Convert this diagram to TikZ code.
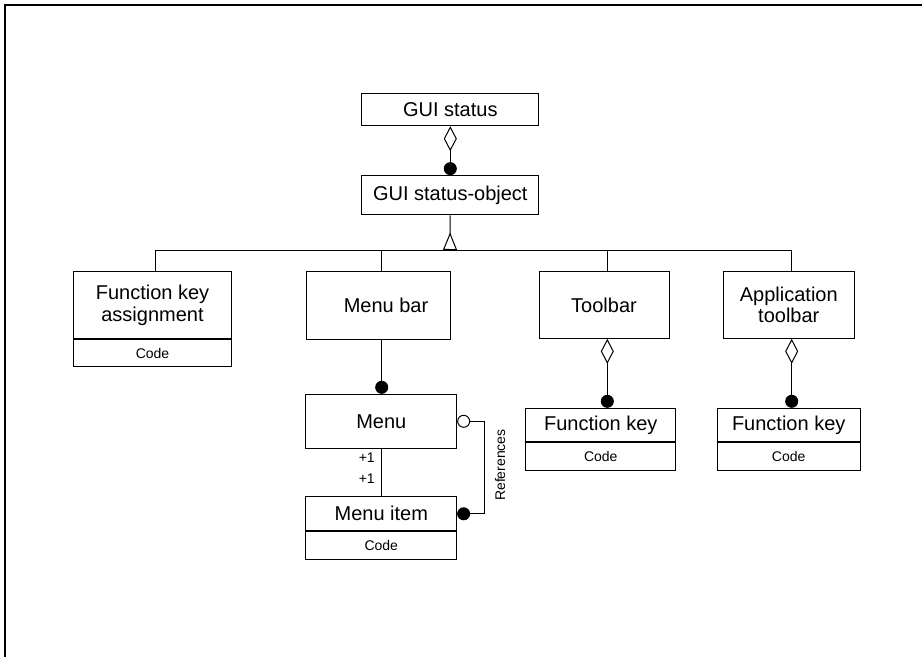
\documentclass[tikz,border=0pt]{standalone}
\usepackage{fontspec}
\setmainfont{Liberation Sans}
\usetikzlibrary{arrows.meta,calc}
\begin{document}
\begin{tikzpicture}[x=0.75pt,y=-0.75pt,
  sz/.style 2 args={minimum width=#1*0.75pt, minimum height=#2*0.75pt},
  box/.style={draw, line width=0.75pt, inner sep=0pt, align=center, font=\fontsize{15}{16}\selectfont},
  codebox/.style={draw, line width=0.75pt, inner sep=0pt, font=\fontsize{10.5}{12}\selectfont},
  small/.style={inner sep=0pt, font=\fontsize{10.5}{12}\selectfont},
  conn/.style={line width=0.75pt},
  agg/.style={conn, {Diamond[open,length=18.75pt,width=9.75pt]}-{Circle[length=9.75pt]}},
  comp/.style={conn, -{Circle[length=9.75pt]}},
  gen/.style={conn, -{Triangle[open,reversed,length=13.2pt,width=10.5pt]}}
]
\useasboundingbox (0,0) rectangle (922,657);
% frame
\draw[line width=1.8pt] (5,657) -- (5,5) -- (922,5);

% nodes
\node[box, sz={177.3}{32.4}] (gs) at (450.3,109.5) {GUI status};
\node[box, sz={177.3}{39.3}] (gso) at (450.3,195.3) {GUI status-object};

\node[box, sz={158.4}{67.3}] (fka) at (152.5,305.3) {Function key\\assignment};
\node[codebox, sz={158.4}{26.7}, anchor=north] (fkacode) at (fka.south) {Code};

\node[box, sz={144}{68}] (mb) at (378,305) {\hspace*{12pt}Menu bar};

\node[box, sz={150.7}{54}] (menu) at (381.3,421.3) {Menu};
\node[box, sz={150.7}{34.3}] (mi) at (381.3,513.8) {Menu item};
\node[codebox, sz={150.7}{27.3}, anchor=north] (micode) at (mi.south) {Code};

\node[box, sz={130}{66.6}] (tb) at (604,305) {Toolbar};
\node[box, sz={149.7}{33.4}] (fk1) at (600.8,425) {Function key};
\node[codebox, sz={149.7}{27.3}, anchor=north] (fk1code) at (fk1.south) {Code};

\node[box, sz={131}{66.6}] (atb) at (788.8,305) {Application\\toolbar};
\node[box, sz={142.7}{33.4}] (fk2) at (788.7,425) {Function key};
\node[codebox, sz={142.7}{27.3}, anchor=north] (fk2code) at (fk2.south) {Code};

% bus coordinates
\coordinate (tri) at (450,250);
\coordinate (b1) at (155.7,250);
\coordinate (b2) at (381.7,250);
\coordinate (b3) at (607.3,250);
\coordinate (b4) at (791.7,250);

% connectors
\draw[agg] (gs) -- (gso);
\draw[gen] (gso) -- (tri);
\draw[conn] (b1) -- (b4);
\draw[conn] (b1) -- (b1 |- fka.north);
\draw[conn] (b2) -- (b2 |- mb.north);
\draw[conn] (b3) -- (b3 |- tb.north);
\draw[conn] (b4) -- (b4 |- atb.north);

\draw[comp] (b2 |- mb.south) -- (b2 |- menu.north);
\draw[conn] (b2 |- menu.south) -- (b2 |- mi.north);
\node[small, anchor=east] (m1) at (375,457.7) {+1};
\node[small, anchor=east] (m2) at (375,478.3) {+1};

\draw[conn, {Circle[open,length=9.75pt]}-{Circle[length=9.75pt]}] (menu.east) -- ++(27,0) coordinate (rc) |- (mi.east);
\node[small, rotate=90] (reflbl) at (500,465) {References};

\draw[agg] (b3 |- tb.south) -- (b3 |- fk1.north);
\draw[agg] (b4 |- atb.south) -- (b4 |- fk2.north);
\end{tikzpicture}
\end{document}
